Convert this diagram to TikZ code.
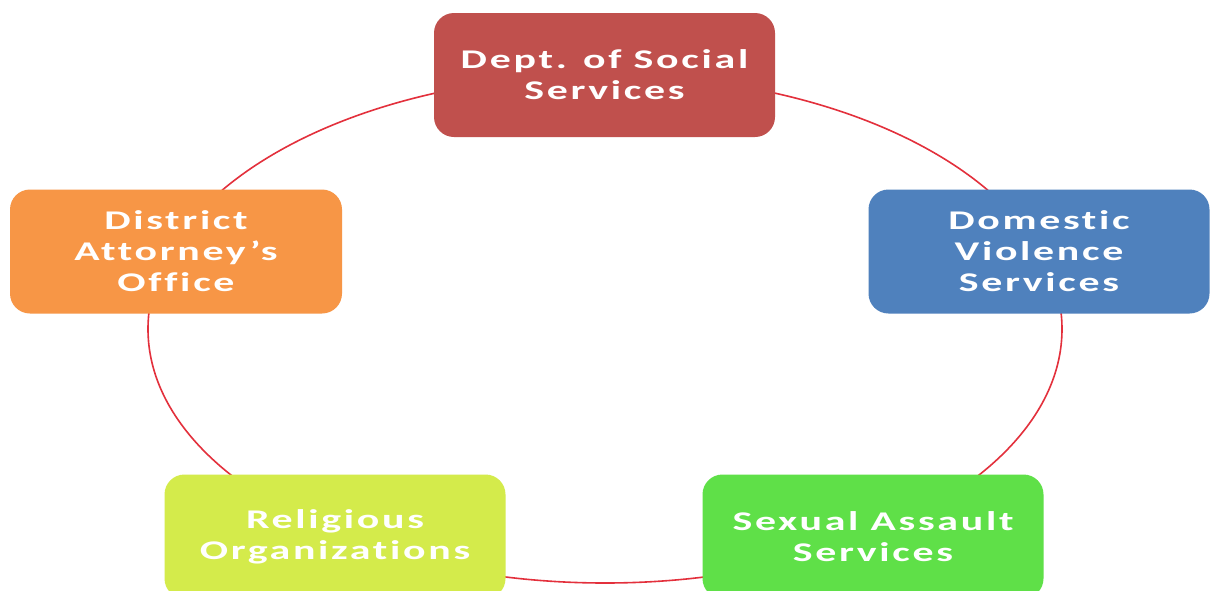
\documentclass[tikz,border=0pt]{standalone}
\usepackage{fontspec}
\newfontfamily\boxfont[FakeStretch=1.55,LetterSpace=10,Ligatures={NoCommon,NoRare},Contextuals={NoAlternate}]{Carlito}
\definecolor{cred}{HTML}{C0504D}
\definecolor{cblue}{HTML}{4F81BD}
\definecolor{cgreen}{HTML}{5FE048}
\definecolor{cyel}{HTML}{D4EB4B}
\definecolor{corange}{HTML}{F79646}
\definecolor{ring}{HTML}{E3303C}
\tikzset{
  orgbox/.style={rounded corners=20pt, minimum width=341pt, minimum height=124pt,
    align=center, text=white, inner sep=0pt,
    font=\boxfont\bfseries\fontsize{27}{31}\selectfont},
  ringline/.style={draw=ring, line width=1.6pt}
}
\begin{document}
\begin{tikzpicture}[x=1pt,y=-1pt]
\useasboundingbox (0,0) rectangle (1211,590);
\fill[white] (0,0) rectangle (1211,590);
\coordinate (c) at (605,329);
\draw[ringline] (c) ellipse [x radius=457pt, y radius=254pt];
\node[orgbox, fill=cred] (dss) at (604.5,75) {Dept. of Social\\Services};
\node[orgbox, fill=cblue] (dvs) at (1039,251.5) {Domestic\\Violence\\Services};
\node[orgbox, fill=cgreen] (sas) at (873,536.5) {Sexual Assault\\Services};
\node[orgbox, fill=cyel] (rel) at (335,536.5) {Religious\\Organizations};
\node[orgbox, fill=corange, minimum width=332pt] (da) at (176,251.5) {District\\Attorney’s\\Office};
\end{tikzpicture}
\end{document}
